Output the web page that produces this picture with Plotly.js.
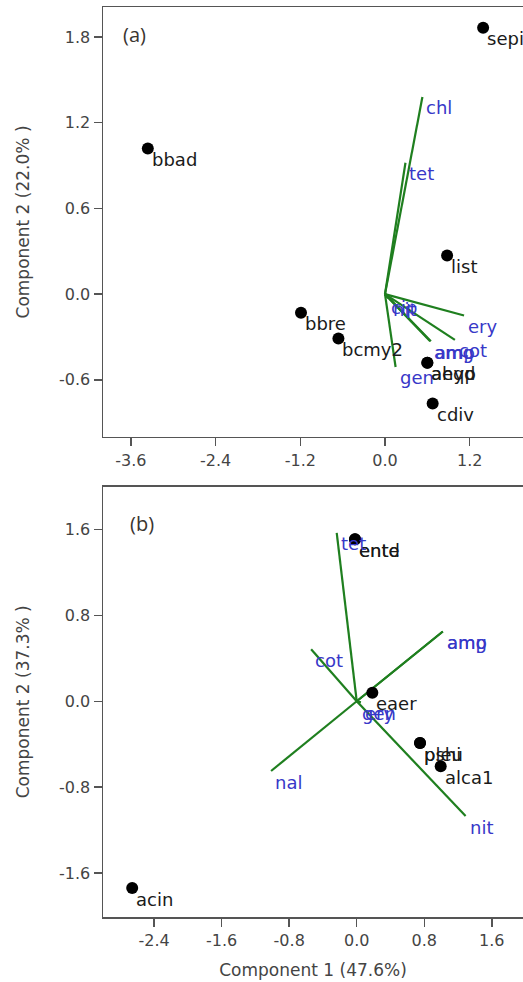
<!DOCTYPE html>
<html>
<head>
<meta charset="utf-8">
<script src="https://cdn.plot.ly/plotly-3.0.1.min.js"></script>
<style>html,body{margin:0;padding:0;background:#fff;overflow:hidden}#chart{width:523px;height:982px}</style>
</head>
<body>
<div id="chart"></div>
<script>
// ---- Panel (a) data ----
const pointNamesA = ['sepi', 'bbad', 'list', 'bbre', 'bcmy2', 'ahyd', 'aeqp', 'cdiv'];
const pointXA = [1.39, -3.36, 0.88, -1.19, -0.66, 0.60, 0.60, 0.675];
const pointYA = [1.865, 1.02, 0.27, -0.13, -0.31, -0.48, -0.48, -0.765];

const vecNamesA = ['chl', 'tet', 'ery', 'cot', 'amg', 'amp', 'gen', 'cip', 'nit'];
const vecXA = [0.53, 0.29, 1.12, 0.99, 0.64, 0.65, 0.15, 0.03, 0.05];
const vecYA = [1.38, 0.92, -0.15, -0.32, -0.33, -0.33, -0.51, -0.02, -0.03];

// ---- Panel (b) data ----
const pointNamesB = ['ente', 'entd', 'eaer', 'pleu', 'pshi', 'alca1', 'acin'];
const pointXB = [-0.02, -0.02, 0.185, 0.75, 0.75, 0.995, -2.66];
const pointYB = [1.51, 1.51, 0.08, -0.39, -0.39, -0.605, -1.74];

const vecNamesB = ['tet', 'amg', 'amp', 'cot', 'nal', 'nit', 'gen', 'ery'];
const vecXB = [-0.237, 1.02, 1.02, -0.54, -1.015, 1.29, 0.02, 0.05];
const vecYB = [1.568, 0.65, 0.65, 0.485, -0.65, -1.07, -0.01, -0.01];

// ---- Tick labels ----
const xTicksA = [-3.6, -2.4, -1.2, 0.0, 1.2];
const xTickTextA = ['-3.6', '-2.4', '-1.2', '0.0', '1.2'];
const yTicksA = [-0.6, 0.0, 0.6, 1.2, 1.8];
const yTickTextA = ['-0.6', '0.0', '0.6', '1.2', '1.8'];
const xTicksB = [-2.4, -1.6, -0.8, 0.0, 0.8, 1.6];
const xTickTextB = ['-2.4', '-1.6', '-0.8', '0.0', '0.8', '1.6'];
const yTicksB = [-1.6, -0.8, 0.0, 0.8, 1.6];
const yTickTextB = ['-1.6', '-0.8', '0.0', '0.8', '1.6'];

const GREEN = '#1f7f1f';
const BLUE = '#3838c8';
const FONT = 'DejaVu Sans';

function vecLines(vx, vy) {
  const xs = [], ys = [];
  for (let i = 0; i < vx.length; i++) { xs.push(0, vx[i], null); ys.push(0, vy[i], null); }
  return {xs, ys};
}

const la = vecLines(vecXA, vecYA);
const lb = vecLines(vecXB, vecYB);

const traces = [
  {x: la.xs, y: la.ys, xaxis: 'x', yaxis: 'y', mode: 'lines', line: {color: GREEN, width: 2.2}, hoverinfo: 'skip'},
  {x: pointXA, y: pointYA, xaxis: 'x', yaxis: 'y', mode: 'markers', marker: {color: '#000', size: 12}},
  {x: lb.xs, y: lb.ys, xaxis: 'x2', yaxis: 'y2', mode: 'lines', line: {color: GREEN, width: 2.2}, hoverinfo: 'skip'},
  {x: pointXB, y: pointYB, xaxis: 'x2', yaxis: 'y2', mode: 'markers', marker: {color: '#000', size: 12}}
];

const annotations = [];
function addLabels(names, xs, ys, xref, yref, color) {
  for (let i = 0; i < names.length; i++) {
    annotations.push({x: xs[i], y: ys[i], xref: xref, yref: yref, text: names[i], showarrow: false,
      xanchor: 'left', yanchor: 'middle', xshift: 2, yshift: -11,
      font: {family: FONT, size: 18, color: color}});
  }
}
addLabels(pointNamesA, pointXA, pointYA, 'x', 'y', '#1a1a1a');
addLabels(vecNamesA, vecXA, vecYA, 'x', 'y', BLUE);
addLabels(pointNamesB, pointXB, pointYB, 'x2', 'y2', '#1a1a1a');
addLabels(vecNamesB, vecXB, vecYB, 'x2', 'y2', BLUE);

annotations.push({xref: 'x domain', yref: 'y domain', x: 0.075, y: 0.935, text: '(a)', showarrow: false,
  xanchor: 'center', yanchor: 'middle', font: {family: 'Open Sans', size: 20, color: '#3a3530'}});
annotations.push({xref: 'x2 domain', yref: 'y2 domain', x: 0.092, y: 0.915, text: '(b)', showarrow: false,
  xanchor: 'center', yanchor: 'middle', font: {family: 'Open Sans', size: 20, color: '#3a3530'}});

const axisCommon = {
  showline: true, linecolor: '#555', linewidth: 1.5,
  ticks: 'outside', ticklen: 8, tickwidth: 1.5, tickcolor: '#555',
  showgrid: false, zeroline: false,
  tickfont: {family: FONT, size: 16, color: '#444'}
};

const layout = {
  width: 523, height: 982,
  margin: {l: 103, r: 0, t: 7, b: 65},
  paper_bgcolor: '#fff', plot_bgcolor: '#fff',
  showlegend: false,
  xaxis: Object.assign({}, axisCommon, {domain: [0, 1], anchor: 'y', range: [-3.995, 1.955], mirror: true,
    tickmode: 'array', tickvals: xTicksA, ticktext: xTickTextA}),
  yaxis: Object.assign({}, axisCommon, {domain: [0.5275, 1], anchor: 'x', range: [-1.0, 2.01],
    tickmode: 'array', tickvals: yTicksA, ticktext: yTickTextA,
    title: {text: 'Component 2 (22.0% )', standoff: 25, font: {family: FONT, size: 17, color: '#444'}}}),
  xaxis2: Object.assign({}, axisCommon, {domain: [0, 1], anchor: 'y2', range: [-3.006, 1.970], mirror: true,
    tickmode: 'array', tickvals: xTicksB, ticktext: xTickTextB,
    title: {text: 'Component 1 (47.6%)', standoff: 15, font: {family: FONT, size: 17, color: '#444'}}}),
  yaxis2: Object.assign({}, axisCommon, {domain: [0, 0.473], anchor: 'x2', range: [-2.01, 2.0],
    tickmode: 'array', tickvals: yTicksB, ticktext: yTickTextB,
    title: {text: 'Component 2 (37.3% )', standoff: 25, font: {family: FONT, size: 17, color: '#444'}}}),
  annotations: annotations
};

Plotly.newPlot('chart', traces, layout, {displayModeBar: false, staticPlot: true});
</script>
</body>
</html>
